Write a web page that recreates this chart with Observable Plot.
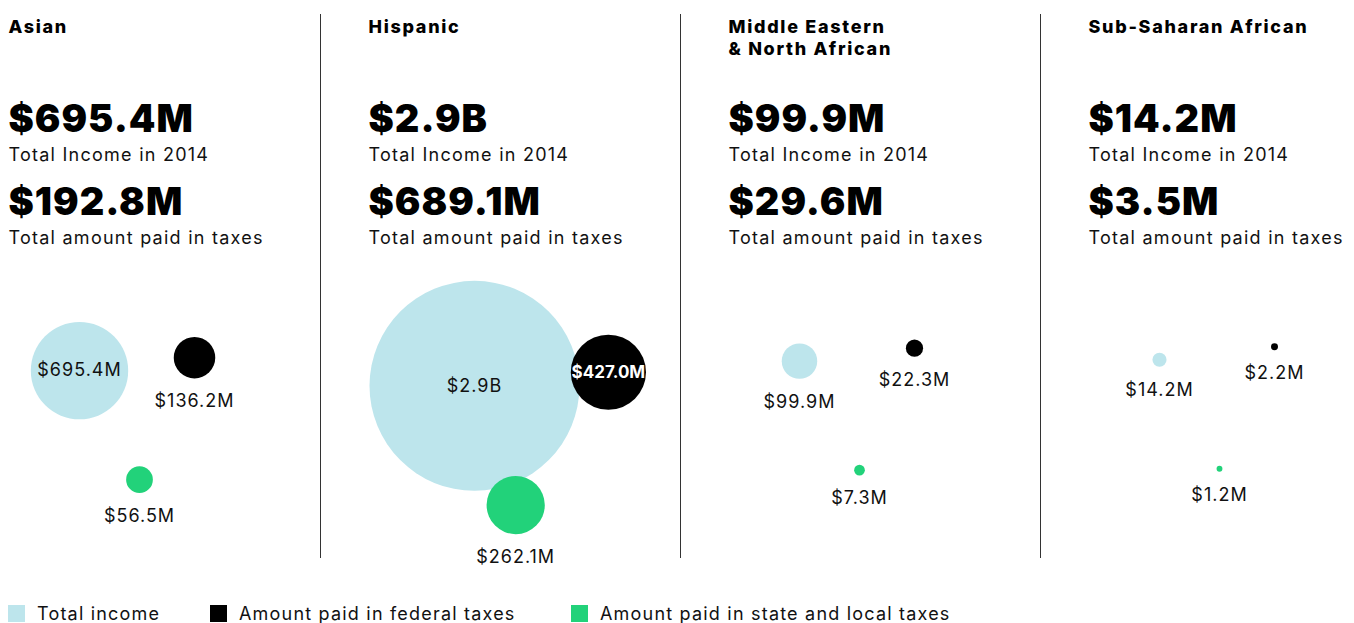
<!DOCTYPE html>
<html><head><meta charset="utf-8">
<script src="https://cdn.jsdelivr.net/npm/d3@7"></script>
<script src="https://cdn.jsdelivr.net/npm/@observablehq/plot@0.6"></script>
<style>
  body{margin:0;background:#fff;font-family:Inter,"Noto Sans",sans-serif;overflow:hidden;color:#111}
  #legend{position:relative;height:20px;margin-top:5px;font-size:18px;letter-spacing:1.2px;white-space:nowrap}
  #legend .it{position:absolute;top:0;display:flex;align-items:center;height:20px}
  #legend .sw{width:17px;height:17px;margin-right:12px;flex:none}
  g.big text{letter-spacing:1px}
  g.head text{letter-spacing:1.7px}
  g.cap text{letter-spacing:1.25px}
  g.lab text{letter-spacing:1px}
</style></head>
<body><div id="chart"></div><div id="legend"></div>
<script>
// ---- data (values in $ millions) ----
const groups = ["Asian", "Hispanic", "Middle Eastern\n& North African", "Sub-Saharan African"];
const totalIncome = [695.4, 2900, 99.9, 14.2];
const totalTaxes = [192.8, 689.1, 29.6, 3.5];
const federalTaxes = [136.2, 427.0, 22.3, 2.2];
const stateLocalTaxes = [56.5, 262.1, 7.3, 1.2];
const seriesNames = ["Total income", "Amount paid in federal taxes", "Amount paid in state and local taxes"];
const seriesColors = ["#bde5ec", "#000000", "#22d27a"];
const incomeCaption = "Total Income in 2014";
const taxesCaption = "Total amount paid in taxes";

const fmt = v => v >= 1000 ? `$${(v / 1000).toFixed(1)}B` : `$${v.toFixed(1)}M`;

// ---- layout config ----
const W = 1354, H = 598, panelW = 360, panelStart = 8;
const panelX = i => panelStart + i * panelW;
const anchorX = [71, 186, 131];   // per-series attraction (panel-local)
const anchorY = [358, 345, 467];
const clusterCenterY = 407;       // vertical centre of each cluster's bounding box
const legendLeft = [8, 210, 571];
const rOpts = {type: "pow", exponent: 0.55, domain: [0, d3.max(totalIncome)], range: [1.5, 105]};
const rScale = Plot.scale({r: rOpts});
const seriesValues = [totalIncome, federalTaxes, stateLocalTaxes];
const inside = d => d.r > 30;

const panels = groups.map((g, i) => ({group: g, i, x0: panelX(i), income: totalIncome[i], taxes: totalTaxes[i]}));

const bubbles = groups.flatMap((g, i) => {
  const nodes = seriesNames.map((s, j) => {
    const value = seriesValues[j][i];
    const r = rScale.apply(value);
    return {group: g, series: s, j, value, r, x: anchorX[j], y: anchorY[j]};
  });
  const sim = d3.forceSimulation(nodes)
    .force("x", d3.forceX(d => anchorX[d.j]).strength(0.05))
    .force("y", d3.forceY(d => anchorY[d.j]).strength(0.25))
    .force("collide", d3.forceCollide(d => Math.max(1, d.r - 4)).strength(0.7).iterations(3))
    .stop();
  for (let k = 0; k < 300; ++k) {
    sim.tick();
    for (const n of nodes) if (n.x - n.r < 1) n.x = n.r + 1;
  }
  const top = d3.min(nodes, n => n.y - n.r), bottom = d3.max(nodes, n => n.y + n.r);
  const shift = clusterCenterY - (top + bottom) / 2;
  nodes.forEach(n => { n.y += shift; n.px = panelX(i) + n.x; });
  return nodes;
});

const dividers = panels.slice(1);

const chart = Plot.plot({
  width: W, height: H,
  margin: 0,
  x: {domain: [0, W], range: [0, W], axis: null},
  y: {domain: [0, H], range: [0, H], axis: null},
  r: rOpts,
  color: {domain: seriesNames, range: seriesColors},
  style: {fontFamily: "Inter, 'Noto Sans', sans-serif", color: "#111", background: "#fff"},
  marks: [
    Plot.ruleX(dividers, {x: d => d.x0 - 48, y1: 14, y2: 558, stroke: "#333", strokeWidth: 1}),
    Plot.text(panels, {x: "x0", y: 16.5, text: "group", textAnchor: "start", lineAnchor: "top", lineHeight: 1.22, fontSize: 18, fontWeight: 800, fill: "#000", className: "head"}),
    Plot.text(panels, {x: "x0", y: 131, text: d => fmt(d.income), textAnchor: "start", lineAnchor: "bottom", fontSize: 38, fontWeight: 900, fill: "#000", className: "big"}),
    Plot.text(panels, {x: "x0", y: 160, text: () => incomeCaption, textAnchor: "start", lineAnchor: "bottom", fontSize: 18, fill: "#111", className: "cap"}),
    Plot.text(panels, {x: "x0", y: 214, text: d => fmt(d.taxes), textAnchor: "start", lineAnchor: "bottom", fontSize: 38, fontWeight: 900, fill: "#000", className: "big"}),
    Plot.text(panels, {x: "x0", y: 243, text: () => taxesCaption, textAnchor: "start", lineAnchor: "bottom", fontSize: 18, fill: "#111", className: "cap"}),
    Plot.dot(bubbles, {x: "px", y: "y", r: "value", fill: "series"}),
    Plot.text(bubbles.filter(d => inside(d) && d.j !== 1), {x: "px", y: "y", text: d => fmt(d.value), fontSize: 18, fill: "#111", lineAnchor: "middle", className: "lab"}),
    Plot.text(bubbles.filter(d => inside(d) && d.j === 1), {x: "px", y: "y", text: d => fmt(d.value), fontSize: 17, fontWeight: 700, fill: "#fff", lineAnchor: "middle"}),
    Plot.text(bubbles.filter(d => !inside(d)), {x: "px", y: d => d.y + d.r, dy: 29, text: d => fmt(d.value), fontSize: 18, fill: "#111", lineAnchor: "bottom", className: "lab"})
  ]
});
document.getElementById("chart").append(chart);

const legend = document.getElementById("legend");
seriesNames.forEach((s, j) => {
  const it = document.createElement("div");
  it.className = "it";
  it.style.left = legendLeft[j] + "px";
  it.innerHTML = `<div class="sw" style="background:${seriesColors[j]}"></div><span>${s}</span>`;
  legend.append(it);
});
</script>
</body></html>
